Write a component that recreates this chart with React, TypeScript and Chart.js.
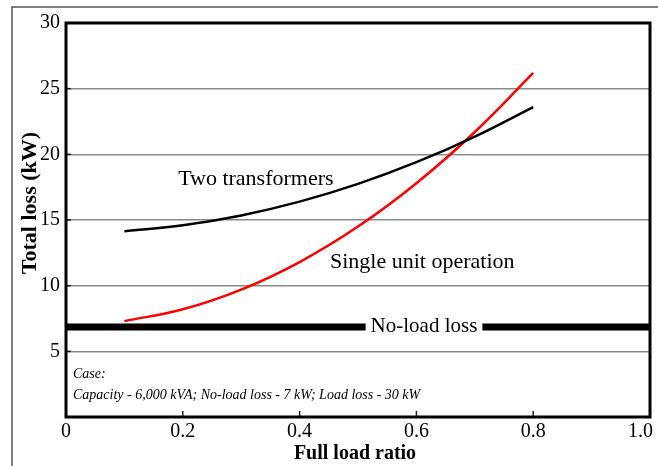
import React, { useEffect, useRef } from "react";
import { Chart, registerables } from "chart.js";

Chart.register(...registerables);

const loadRatio = [0.1, 0.2, 0.3, 0.4, 0.5, 0.6, 0.7, 0.8];
const twoTransformers = [14.15, 14.6, 15.35, 16.4, 17.75, 19.4, 21.35, 23.6];
const singleUnit = [7.3, 8.2, 9.7, 11.8, 14.5, 17.8, 21.7, 26.2];
const noLoadX = [0, 1.0];
const noLoadLoss = [6.85, 6.85];
const xTicks = [0, 0.2, 0.4, 0.6, 0.8, 1.0];
const yTicks = [5, 10, 15, 20, 25, 30];

const SERIF = "'Liberation Serif', 'Times New Roman', serif";

const labels = [
  { text: "Two transformers", x: 0.192, y: 17.66, size: 22, align: "left" },
  { text: "Single unit operation", x: 0.452, y: 11.35, size: 22, align: "left" },
];

const annotatePlugin = {
  id: "annotate",
  beforeDraw(chart: any) {
    const ctx = chart.ctx;
    ctx.save();
    ctx.fillStyle = "#ffffff";
    ctx.fillRect(0, 0, chart.width, chart.height);
    ctx.strokeStyle = "#555555";
    ctx.lineWidth = 1.5;
    ctx.strokeRect(12, 7, chart.width + 20, chart.height + 20);
    ctx.restore();
  },
  afterDatasetsDraw(chart: any) {
    const ctx = chart.ctx;
    const xs = chart.scales.x;
    const ys = chart.scales.y;
    const area = chart.chartArea;
    ctx.save();
    ctx.fillStyle = "#000000";
    ctx.textBaseline = "alphabetic";
    for (const l of labels) {
      ctx.font = `${l.size}px ${SERIF}`;
      ctx.textAlign = l.align;
      ctx.fillText(l.text, xs.getPixelForValue(l.x), ys.getPixelForValue(l.y));
    }
    // No-load loss label with white background over the line
    ctx.font = `21px ${SERIF}`;
    ctx.textAlign = "center";
    const nlText = "No-load loss";
    const nlX = xs.getPixelForValue(0.613);
    const nlY = ys.getPixelForValue(6.47);
    const w = ctx.measureText(nlText).width;
    ctx.fillStyle = "#ffffff";
    ctx.fillRect(nlX - w / 2 - 5, nlY - 18, w + 10, 24);
    ctx.fillStyle = "#000000";
    ctx.fillText(nlText, nlX, nlY);

    // Case notes
    ctx.font = `italic 14px ${SERIF}`;
    ctx.textAlign = "left";
    ctx.fillStyle = "#000000";
    ctx.fillText("Case:", area.left + 7, ys.getPixelForValue(3.0));
    ctx.fillText(
      "Capacity - 6,000 kVA; No-load loss - 7 kW; Load loss - 30 kW",
      area.left + 7,
      ys.getPixelForValue(1.4)
    );

    // last x tick label kept inside the canvas
    ctx.font = `20px ${SERIF}`;
    ctx.textAlign = "right";
    ctx.textBaseline = "top";
    ctx.fillText("1.0", area.right + 3, area.bottom + 5);

    // inward tick marks
    ctx.strokeStyle = "#222222";
    ctx.lineWidth = 1.5;
    for (const t of xTicks) {
      const px = xs.getPixelForValue(t);
      ctx.beginPath();
      ctx.moveTo(px, area.bottom);
      ctx.lineTo(px, area.bottom - 6);
      ctx.stroke();
    }
    for (const t of yTicks) {
      const py = ys.getPixelForValue(t);
      ctx.beginPath();
      ctx.moveTo(area.left, py);
      ctx.lineTo(area.left + 5, py);
      ctx.stroke();
    }

    // plot frame
    ctx.strokeStyle = "#000000";
    ctx.lineWidth = 3;
    ctx.strokeRect(area.left, area.top, area.right - area.left, area.bottom - area.top);

    // axis titles
    ctx.font = `bold 20px ${SERIF}`;
    ctx.textAlign = "center";
    ctx.textBaseline = "middle";
    ctx.fillStyle = "#000000";
    ctx.fillText("Full load ratio", (area.left + area.right) / 2 - 3, 454);
    ctx.translate(30, 203);
    ctx.rotate(-Math.PI / 2);
    ctx.font = `bold 22px ${SERIF}`;
    ctx.fillText("Total loss (kW)", 0, 0);
    ctx.restore();
  },
};

export default function App() {
  const ref = useRef<HTMLCanvasElement>(null);
  useEffect(() => {
    if (!ref.current) return;
    const chart = new Chart(ref.current, {
      type: "line",
      data: {
        datasets: [
          {
            label: "Two transformers",
            data: loadRatio.map((x, i) => ({ x, y: twoTransformers[i] })),
            borderColor: "#000000",
            borderWidth: 2.5,
            pointRadius: 0,
            tension: 0.4,
          },
          {
            label: "Single unit operation",
            data: loadRatio.map((x, i) => ({ x, y: singleUnit[i] })),
            borderColor: "#ff0000",
            borderWidth: 2.5,
            pointRadius: 0,
            tension: 0.4,
          },
          {
            label: "No-load loss",
            data: noLoadX.map((x, i) => ({ x, y: noLoadLoss[i] })),
            borderColor: "#000000",
            borderWidth: 7,
            pointRadius: 0,
            borderCapStyle: "butt",
          },
        ],
      },
      options: {
        responsive: false,
        animation: false,
        layout: { padding: { top: 23, right: 8, left: 0, bottom: 0 } },
        plugins: { legend: { display: false }, tooltip: { enabled: false } },
        scales: {
          x: {
            type: "linear",
            min: 0,
            max: 1,
            afterBuildTicks: (s: any) => {
              s.ticks = xTicks.map((v) => ({ value: v }));
            },
            ticks: {
              callback: (v: any) => (v === 0 ? "0" : v === 1 ? "" : Number(v).toFixed(1)),
              font: { family: SERIF, size: 20 },
              color: "#000000",
              padding: 3,
              maxRotation: 0,
              autoSkip: false,
            },
            grid: { display: false, drawTicks: false },
            border: { display: false },
            afterFit: (s: any) => {
              s.height = 49;
              s.paddingLeft = 0;
              s.paddingRight = 0;
            },
          },
          y: {
            type: "linear",
            min: 0,
            max: 30,
            afterBuildTicks: (s: any) => {
              s.ticks = [0, ...yTicks].map((v) => ({ value: v }));
            },
            ticks: {
              callback: (v: any) => (v === 0 ? "" : String(v)),
              font: { family: SERIF, size: 20 },
              color: "#000000",
              padding: 6,
            },
            grid: {
              drawTicks: false,
              color: (c: any) =>
                c.tick && (c.tick.value === 0 || c.tick.value === 30) ? "rgba(0,0,0,0)" : "#8a8a8a",
              lineWidth: 1.5,
            },
            border: { display: false },
            afterFit: (s: any) => {
              s.width = 66;
              s.paddingTop = 0;
              s.paddingBottom = 0;
            },
          },
        },
      },
      plugins: [annotatePlugin],
    } as any);
    return () => chart.destroy();
  }, []);
  return (
    <div style={{ position: "fixed", left: 0, top: 0, width: 658, height: 466 }}>
      <canvas ref={ref} width={658} height={466} style={{ display: "block" }} />
    </div>
  );
}
